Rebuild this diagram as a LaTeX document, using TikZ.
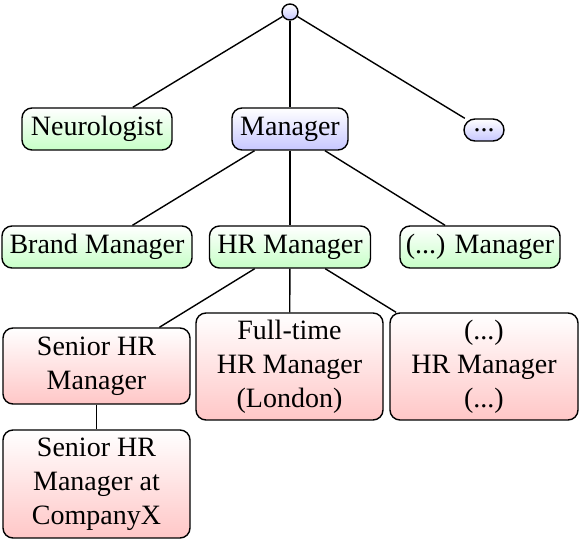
\documentclass[tikz,border=0pt]{standalone}
\usepackage{fontspec}
\setmainfont{Liberation Serif}
\tikzset{
  box/.style={draw, rounded corners=5pt, align=center, inner sep=0pt, minimum height=21pt},
  grn/.style={box, top color=white, bottom color=green!22},
  blu/.style={box, top color=white, bottom color=blue!22},
  rd/.style={box, top color=white, bottom color=red!22}
}
\begin{document}
\begin{tikzpicture}[x=0.5pt, y=-0.5pt, line width=0.7pt, font=\fontsize{14}{17}\selectfont]
    \useasboundingbox (0,0) rectangle (580,540);
    % tree of job titles
    \node[circle,draw,top color=white,bottom color=blue!22,minimum size=8pt,inner sep=0pt] (r) at (290,12) {};
    \node[grn,minimum width=75pt] (n) at (97,129) {Neurologist};
    \node[blu,minimum width=58pt] (m) at (290,129) {Manager};
    \node[blu,minimum width=20pt,minimum height=11pt,rounded corners=5.5pt] (d) at (484,130) {...};
    \node[grn,minimum width=95pt] (bm) at (97,247) {Brand Manager};
    \node[grn,minimum width=80.5pt] (hr) at (290,247) {HR Manager};
    \node[grn,minimum width=80pt] (om) at (480,247) {(...) Manager};
    \node[rd,minimum width=93.5pt,minimum height=38pt] (s) at (96.5,366) {Senior HR\\Manager};
    \node[rd,minimum width=93.5pt,minimum height=53.5pt] (f) at (289.5,366.5) {Full-time\\HR Manager\\(London)};
    \node[rd,minimum width=94pt,minimum height=53.5pt] (o) at (484,366.5) {(...)\\HR Manager\\(...)};
    \node[rd,minimum width=93.5pt,minimum height=54pt] (c) at (96.5,484) {Senior HR\\Manager at\\CompanyX};

    \draw (r) -- (n); \draw (r) -- (m); \draw (r) -- (d);
    \draw (m) -- (bm); \draw (m) -- (hr); \draw (m) -- (om);
    \draw (hr) -- (s); \draw (hr) -- (f); \draw (hr) -- (o);
    \draw (s) -- (c);
\end{tikzpicture}
\end{document}
